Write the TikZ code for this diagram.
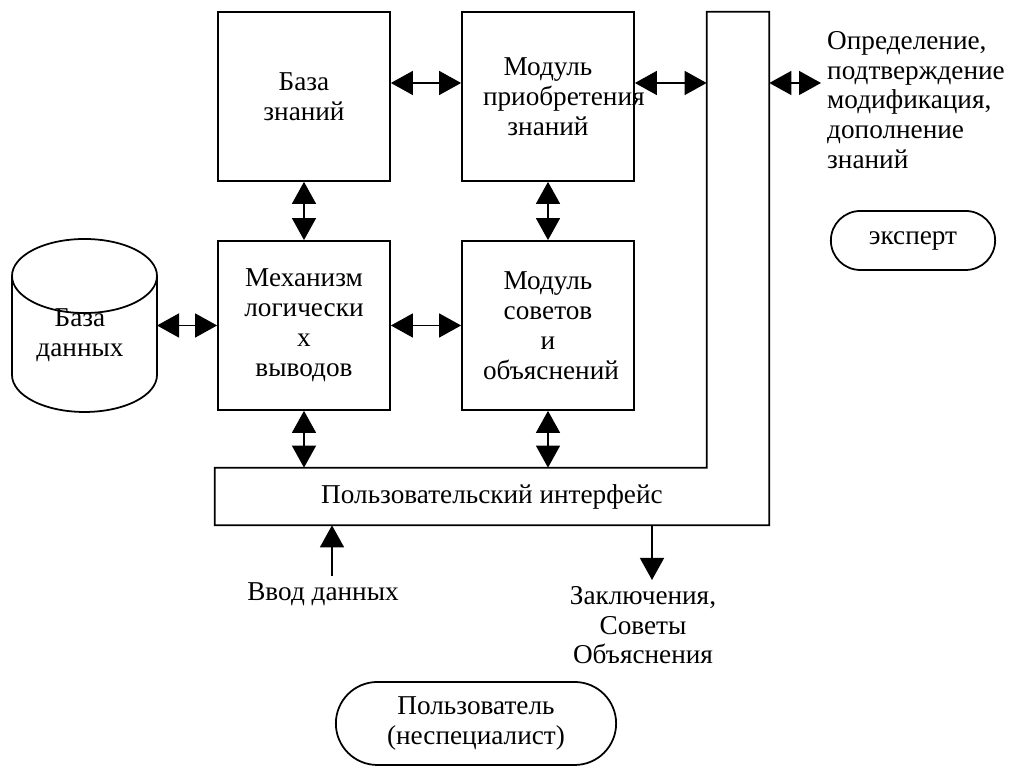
\documentclass[tikz,border=0pt]{standalone}
\usepackage{fontspec}
\setmainfont{Liberation Serif}
\usepackage{tikz}
\usetikzlibrary{arrows.meta}
\usetikzlibrary{calc}
\usetikzlibrary{positioning}
\usetikzlibrary{shapes.geometric}
\usetikzlibrary{shapes.misc}

\tikzset{
  every node/.style={font=\fontsize{15.5}{17}\selectfont},
  blok/.style={draw, line width=1pt, minimum width=3.44cm, minimum height=3.38cm, text width=2.6cm, align=center},
  oval/.style={draw, line width=1pt, rounded rectangle, align=center},
  dbl/.style={{Triangle[length=4.4mm, width=4.8mm]}-{Triangle[length=4.4mm, width=4.8mm]}, line width=0.8pt},
  sgl/.style={-{Triangle[length=4.4mm, width=4.8mm]}, line width=0.8pt}
}

\begin{document}
\begin{tikzpicture}

    \useasboundingbox (0,0) rectangle (20.22,15.34);

    % blocks
    \node[blok] (kb) at (6.08,13.41) {База\\знаний};
    \node[blok] (acq) at (10.96,13.41) {Модуль\\приобретения\\знаний};
    \node[blok] (inf) at (6.08,8.83) {Механизм\\логически\\х\\выводов};
    \node[blok] (adv) at (10.96,8.83) {Модуль\\советов\\и\\объяснений};

    % data base
    \node[draw, line width=1pt, cylinder, shape border rotate=90, aspect=0.75, minimum width=2.9cm, minimum height=3.46cm, anchor=shape center, align=center] (db) at (1.69,8.83) {\phantom{База}\\\phantom{данных}};
    \node[align=center] (dbname) at (1.60,8.64) {База\\данных};

    % interface
    \node[minimum width=11.08cm, minimum height=1.14cm] (ui) at (9.84,5.41) {Пользовательский интерфейс};
    \node[minimum width=1.24cm, minimum height=9.12cm] (bar) at (14.76,10.54) {};
    \draw[line width=1pt] (ui.north west) -- (ui.north west -| bar.west) -- (bar.north west) -- (bar.north east) -- (ui.south east) -- (ui.south west) -- cycle;

    % texts
    \node[anchor=north west, align=left] (def) at (16.42,14.84) {Определение,\\подтверждение\\модификация,\\дополнение\\знаний};
    \node[oval, minimum width=3.52cm, minimum height=1.18cm] (exp) at (18.26,10.53) {эксперт};
    \node (input) at (6.46,3.46) {Ввод данных};
    \node[anchor=north, align=center] (out) at (12.86,3.74) {Заключения,\\Советы\\Объяснения};
    \node[oval, minimum width=5.84cm, minimum height=1.66cm] (user) at (9.52,0.87) {Пользователь\\(неспециалист)};

    % arrows
    \coordinate (row) at (0,13.68);
    \draw[dbl] (kb.east |- row) -- (acq.west |- row);
    \draw[dbl] (acq.east |- row) -- (bar.west |- row);
    \draw[dbl] (bar.east |- row) -- (def.west |- row);
    \draw[dbl] (kb) -- (inf);
    \draw[dbl] (acq) -- (adv);
    \draw[dbl] ([xshift=1.45cm]db.shape center) -- (inf.west);
    \draw[dbl] (inf) -- (adv);
    \draw[dbl] (inf.south) -- (inf.south |- ui.north);
    \draw[dbl] (adv.south) -- (adv.south |- ui.north);
    \draw[sgl] ([xshift=0.18cm]input.north) -- ([xshift=0.18cm]input.north |- ui.south);
    \draw[sgl] ([xshift=0.18cm]out.north |- ui.south) -- ([xshift=0.18cm]out.north);

\end{tikzpicture}
\end{document}
